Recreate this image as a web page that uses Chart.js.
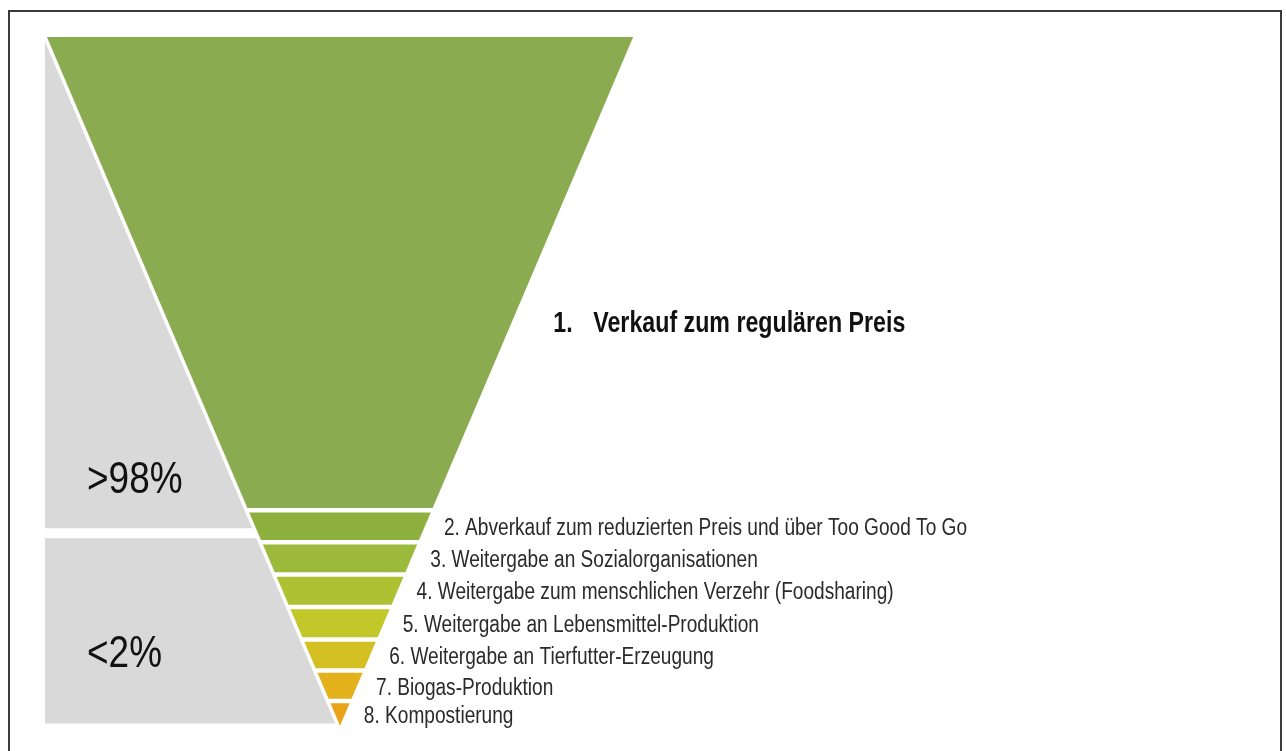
<!DOCTYPE html>
<html>
<head>
<meta charset="utf-8">
<script src="https://cdn.jsdelivr.net/npm/chart.js@4.4.1/dist/chart.umd.min.js"></script>
<style>
  html, body { margin: 0; padding: 0; background: #ffffff; width: 1286px; height: 751px; overflow: hidden; }
  #frame { position: absolute; left: 8px; top: 10px; width: 1274px; height: 760px; border: 2px solid #3a3a3a; box-sizing: border-box; }
  #c { position: absolute; left: 0; top: 0; }
</style>
</head>
<body>
<div id="frame"></div>
<canvas id="c" width="1286" height="751"></canvas>
<script>
// ---- data ----
const stages = [
  "1. Verkauf zum regulären Preis",
  "2. Abverkauf zum reduzierten Preis und über Too Good To Go",
  "3. Weitergabe an Sozialorganisationen",
  "4. Weitergabe zum menschlichen Verzehr (Foodsharing)",
  "5. Weitergabe an Lebensmittel-Produktion",
  "6. Weitergabe an Tierfutter-Erzeugung",
  "7. Biogas-Produktion",
  "8. Kompostierung"
];
const stageHeights = [473, 32, 32, 32.5, 32.5, 31, 30.5, 27];
const stageColors = ["#8aab4f", "#8db03f", "#9bb93a", "#adc132", "#c2c72a", "#d5c023", "#e2b11c", "#e9a318"];
const shareLabels = [">98%", "<2%"];
const shareBands = [[0, 491], [501, 686]];

const total = stageHeights.reduce((a, b) => a + b, 0);
const starts = [];
stageHeights.reduce((acc, h) => { starts.push(acc); return acc + h; }, 0);
const halfW = y => 50 * (total - y) / total;

const FONT = "'Liberation Sans', Arial, sans-serif";

function narrowText(ctx, text, x, y, sx) {
  ctx.save();
  ctx.translate(x, y);
  ctx.scale(sx, 1);
  ctx.fillText(text, 0, 0);
  ctx.restore();
}

const funnelPlugin = {
  id: 'funnel',
  beforeDatasetsDraw(chart) {
    const { ctx, scales: { x, y } } = chart;
    const px = v => x.getPixelForValue(v);
    const py = v => y.getPixelForValue(v);
    ctx.save();
    // gray share bands
    shareBands.forEach(([a, b]) => {
      ctx.beginPath();
      ctx.moveTo(px(-50), py(a));
      ctx.lineTo(px(-halfW(a)), py(a));
      ctx.lineTo(px(-halfW(b)), py(b));
      ctx.lineTo(px(-50), py(b));
      ctx.closePath();
      ctx.fillStyle = "#d9d9d9";
      ctx.fill();
    });
    // funnel slices
    stageHeights.forEach((h, i) => {
      const a = starts[i], b = a + h;
      ctx.beginPath();
      ctx.moveTo(px(-halfW(a)), py(a));
      ctx.lineTo(px(halfW(a)), py(a));
      ctx.lineTo(px(halfW(b)), py(b));
      ctx.lineTo(px(-halfW(b)), py(b));
      ctx.closePath();
      ctx.fillStyle = stageColors[i];
      ctx.fill();
    });
    // white separators between slices
    ctx.strokeStyle = "#ffffff";
    ctx.lineCap = "butt";
    ctx.lineWidth = 4.5;
    starts.slice(1).forEach(s => {
      ctx.beginPath();
      ctx.moveTo(px(-halfW(s)) - 1, py(s));
      ctx.lineTo(px(halfW(s)) + 2, py(s));
      ctx.stroke();
    });
    // white line separating gray area from funnel
    ctx.lineWidth = 3.5;
    ctx.beginPath();
    ctx.moveTo(px(-halfW(0)), py(0));
    ctx.lineTo(px(-halfW(total)), py(total));
    ctx.stroke();

    // share labels
    ctx.fillStyle = "#111";
    ctx.textBaseline = "middle";
    ctx.textAlign = "left";
    ctx.font = "44px " + FONT;
    narrowText(ctx, shareLabels[0], px(-50) + 42, py(444), 0.84);
    narrowText(ctx, shareLabels[1], px(-50) + 42, py(617), 0.84);
    // stage labels
    stages.forEach((s, i) => {
      if (i === 0) {
        const yv = starts[0] + stageHeights[0] * 0.605;
        const xp = px(halfW(yv)) + 42;
        ctx.font = "bold 29px " + FONT;
        ctx.fillStyle = "#111";
        const m = s.match(/^(\d+\.)\s*(.*)$/);
        narrowText(ctx, m[1], xp, py(yv) + 1, 0.8);
        narrowText(ctx, m[2], xp + 40, py(yv) + 1, 0.8);
      } else {
        const yv = starts[i] + stageHeights[i] / 2;
        const xp = px(halfW(yv)) + 19;
        ctx.font = "23px " + FONT;
        ctx.fillStyle = "#2a2a2a";
        narrowText(ctx, s, xp, py(yv) + 2.5, 0.83);
      }
    });
    ctx.restore();
  }
};

new Chart(document.getElementById('c'), {
  type: 'scatter',
  data: {
    datasets: [{
      label: 'Stufen',
      data: stages.map((s, i) => ({ x: 0, y: starts[i] + stageHeights[i] / 2 })),
      pointRadius: 0,
      showLine: false
    }]
  },
  options: {
    responsive: false,
    animation: false,
    layout: { padding: { left: 45, top: 37, right: 0, bottom: 23 } },
    plugins: { legend: { display: false }, tooltip: { enabled: false } },
    scales: {
      x: { type: 'linear', min: -50, max: 161, display: false },
      y: { type: 'linear', min: 0, max: total, reverse: true, display: false }
    }
  },
  plugins: [funnelPlugin]
});
</script>
</body>
</html>
